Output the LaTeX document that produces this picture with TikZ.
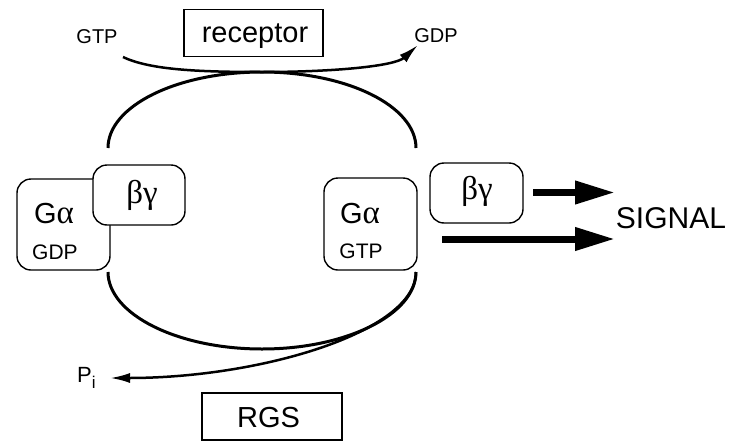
\documentclass[tikz,border=0pt]{standalone}
\usepackage{fontspec}
\setmainfont{Liberation Sans}
\newfontfamily\grk{Liberation Serif}
\usetikzlibrary{arrows.meta}
\begin{document}
\begin{tikzpicture}[x=1pt,y=-1pt,
  rbox/.style={draw, line width=1.4pt, rounded corners=14pt, fill=white, inner sep=0pt},
  sbox/.style={draw, line width=1.3pt, inner sep=0pt},
  small/.style={inner sep=0pt, anchor=base, font=\fontsize{20}{20}\selectfont},
  large/.style={inner sep=0pt, anchor=base, font=\fontsize{29}{29}\selectfont},
  greek/.style={inner sep=0pt, font=\fontsize{33}{33}\selectfont\grk},
  cycle/.style={line width=3pt},
  thinarrow/.style={line width=2.5pt, -{Latex[length=20pt,width=10pt]}},
  fatarrow/.style={line width=7pt, -{Triangle[length=40pt,width=22pt]}}
]
\useasboundingbox (0,0) rectangle (744,442);

% boxes
\node[sbox, minimum width=139pt, minimum height=47pt] (rec) at (253.5,33) {};
\node[sbox, minimum width=140pt, minimum height=47pt] (rgs) at (272,416.5) {};
\node[rbox, minimum width=93pt, minimum height=91pt] (gaL) at (63.5,224.5) {};
\node[rbox, minimum width=92pt, minimum height=60pt] (bgL) at (139,195) {};
\node[rbox, minimum width=93pt, minimum height=92pt] (gaR) at (370.5,224) {};
\node[rbox, minimum width=93pt, minimum height=60pt] (bgR) at (476.5,193) {};

% texts
\node[large] (trec) at (255,42) {receptor};
\node[large] (trgs) at (268.5,427) {RGS};
\node[large, font=\fontsize{30}{30}\selectfont] (sig) at (671,228) {SIGNAL};
\node[small] (gtpT) at (97,43) {GTP};
\node[small] (gdpT) at (436,42) {GDP};
\node[large] (tgaL) at (54,223) {G{\fontsize{33}{33}\selectfont\grk α}};
\node[small, font=\fontsize{21}{21}\selectfont] (gdpL) at (55,259) {GDP};
\node[greek] (tbgL) at (142,195) {βγ};
\node[large] (tgaR) at (360,223) {G{\fontsize{33}{33}\selectfont\grk α}};
\node[small, font=\fontsize{21}{21}\selectfont] (gtpR) at (361,258) {GTP};
\node[greek] (tbgR) at (477,191) {βγ};
\node[inner sep=0pt, anchor=base west, font=\fontsize{22}{22}\selectfont] (pi) at (77,382) {P\raisebox{-6pt}{\fontsize{17}{17}\selectfont i}};

% connector end points
\coordinate (uL) at (108,148);
\coordinate (uT) at (262,72);
\coordinate (uR) at (416,148);
\coordinate (lL) at (108,272);
\coordinate (lB) at (262,349);
\coordinate (lR) at (416,272);
\coordinate (gtpS) at (123,57);
\coordinate (gdpE) at (418,45);
\coordinate (piE) at (110,378);
\coordinate (s1S) at (533,192.5);
\coordinate (s1E) at (615,192.5);
\coordinate (s2S) at (442,239);
\coordinate (s2E) at (615,239);

% cycle arcs
\draw[cycle] (uL) .. controls (108,106) and (177,72) .. (uT)
                  .. controls (347,72) and (416,106) .. (uR);
\draw[cycle] (lL) .. controls (108,314) and (177,349) .. (lB)
                  .. controls (347,349) and (416,314) .. (lR);

% receptor exchange arrow
\draw[thinarrow] (gtpS) .. controls (150,70) and (200,72) .. (uT)
                        .. controls (335,72) and (395,66) .. (gdpE);
% RGS hydrolysis arrow
\draw[thinarrow] (lR) .. controls (416,332) and (260,378) .. (piE);

% signal arrows
\draw[fatarrow] (s1S) -- (s1E);
\draw[fatarrow] (s2S) -- (s2E);
\end{tikzpicture}
\end{document}
